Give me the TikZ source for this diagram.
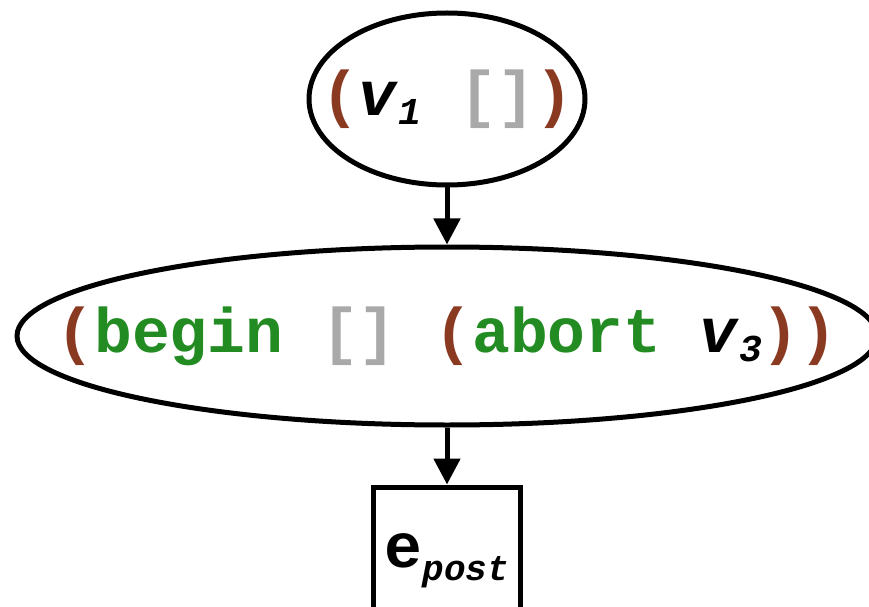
\documentclass[tikz,border=0pt]{standalone}
\usepackage{fontspec}
\newfontfamily\codefont{Liberation Mono}
\usetikzlibrary{arrows.meta,positioning,shapes.geometric}
\definecolor{parenbrown}{RGB}{139,58,34}
\definecolor{kwgreen}{RGB}{34,139,34}
\definecolor{holegray}{RGB}{169,169,169}
\newcommand{\pn}[1]{\textcolor{parenbrown}{#1}}
\newcommand{\kw}[1]{\textcolor{kwgreen}{#1}}
\newcommand{\hole}{\textcolor{holegray}{[]}}
\newcommand{\mvar}[2]{\textit{#1}\raisebox{-0.15em}{\fontsize{38}{40}\selectfont\textit{#2}}}
\newcommand{\zw}[1]{\makebox[0pt]{#1}}
\tikzset{
  expr/.style={draw,line width=5pt,ellipse,inner sep=0pt,
    font=\codefont\bfseries\fontsize{63}{70}\selectfont},
  term/.style={expr,rectangle},
  arrow/.style={-{Triangle[length=26pt,width=26pt]},line width=5pt}
}

\begin{document}
\begin{tikzpicture}[node distance=57pt]
\useasboundingbox (0,0) rectangle (869pt,606pt);
\node[expr,minimum width=276pt,minimum height=172pt] (bind) at (447pt,507pt)
  {\zw{\pn{(}\mvar{v}{1} \hole\pn{)}}};
\node[expr,minimum width=860pt,minimum height=178pt,below=of bind] (seq)
  {\zw{\pn{(}\kw{begin} \hole{} \pn{(}\kw{abort} \mvar{v}{3}\pn{))}}};
\node[term,minimum size=147pt,below=of seq] (post)
  {\zw{e\raisebox{-0.2em}{\fontsize{36}{40}\selectfont\textit{post}}}};
\draw[arrow] (bind)--(seq);
\draw[arrow] (seq)--(post);
\end{tikzpicture}
\end{document}
